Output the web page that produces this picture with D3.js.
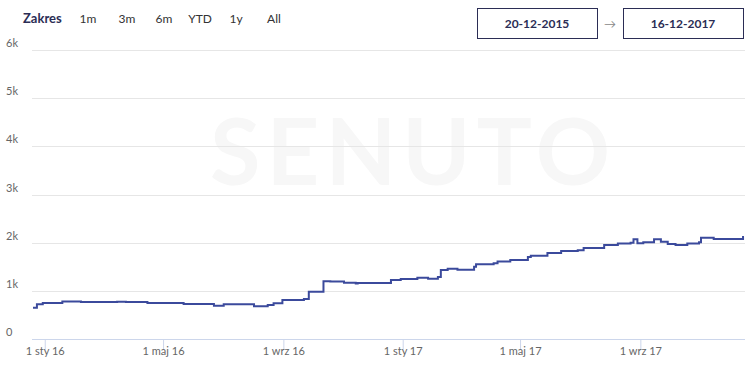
<!DOCTYPE html>
<html>
<head>
<meta charset="utf-8">
<script src="https://cdn.jsdelivr.net/npm/d3@7"></script>
<style>
  body { margin: 0; background: #fff; font-family: Lato, "Open Sans", sans-serif; }
  svg text { font-family: Lato, "Open Sans", sans-serif; }
</style>
</head>
<body>
<svg id="chart" width="755" height="372"></svg>
<script>
// ranges in the top bar
var rangeButtons = ["1m", "3m", "6m", "YTD", "1y", "All"];
var dateFrom = "20-12-2015", dateTo = "16-12-2017";

// visibility series
var dates = [
  "2015-12-20", "2015-12-24", "2015-12-30", "2016-01-19", "2016-02-07", "2016-03-15",
  "2016-03-24", "2016-04-15", "2016-05-22", "2016-06-22", "2016-07-02", "2016-08-02",
  "2016-08-16", "2016-08-22", "2016-08-31", "2016-09-22", "2016-09-27", "2016-10-12",
  "2016-10-19", "2016-11-02", "2016-11-14", "2016-11-16", "2016-12-20", "2016-12-30",
  "2017-01-16", "2017-01-27", "2017-02-06", "2017-02-09", "2017-02-16", "2017-02-26",
  "2017-03-15", "2017-03-17", "2017-04-04", "2017-04-08", "2017-04-21", "2017-05-09",
  "2017-05-12", "2017-05-29", "2017-06-12", "2017-06-29", "2017-07-05", "2017-07-26",
  "2017-08-09", "2017-08-22", "2017-08-25", "2017-08-29", "2017-09-04", "2017-09-15",
  "2017-09-22", "2017-09-29", "2017-10-07", "2017-10-19", "2017-10-31", "2017-11-02",
  "2017-11-15", "2017-12-13", "2017-12-15", "2017-12-16"
];
var values = [
  650, 720, 750, 780, 770, 775,
  770, 745, 725, 690, 720, 680,
  705, 740, 810, 830, 980, 1200,
  1195, 1170, 1150, 1165, 1225, 1245,
  1270, 1250, 1285, 1430, 1460, 1440,
  1500, 1550, 1575, 1610, 1640, 1700,
  1730, 1785, 1825, 1845, 1890, 1950,
  1985, 2000, 2070, 1990, 2010, 2070,
  2020, 1970, 1950, 1985, 2010, 2100,
  2075, 2075, 2120, 2120
];
var yTicks = [0, 1000, 2000, 3000, 4000, 5000, 6000];
var yTickLabels = ["0", "1k", "2k", "3k", "4k", "5k", "6k"];
var xTicks = ["2016-01-01", "2016-05-01", "2016-09-01", "2017-01-01", "2017-05-01", "2017-09-01"];
var xTickLabels = ["1 sty 16", "1 maj 16", "1 wrz 16", "1 sty 17", "1 maj 17", "1 wrz 17"];

var parse = d3.timeParse("%Y-%m-%d");
var data = dates.map(function(d, i) { return { date: parse(d), value: values[i] }; });

var svg = d3.select("#chart");
var plotL = 32, plotR = 745, plotT = 50, plotB = 339;

var x = d3.scaleTime()
  .domain([parse("2015-12-20"), parse("2017-12-17")])
  .range([plotL + 1, plotR]);
var y = d3.scaleLinear().domain([0, 6000]).range([plotB, plotT]);

// watermark
svg.append("text")
  .attr("x", 210).attr("y", 185)
  .attr("textLength", 400).attr("lengthAdjust", "spacing")
  .attr("font-size", 92).attr("font-weight", 700)
  .attr("fill", "#f7f7f7")
  .text("SENUTO");

// grid
svg.append("g").selectAll("line")
  .data(yTicks.slice(1))
  .enter().append("line")
  .attr("x1", plotL).attr("x2", plotR)
  .attr("y1", function(d) { return Math.round(y(d)) + 0.5; })
  .attr("y2", function(d) { return Math.round(y(d)) + 0.5; })
  .attr("stroke", "#e6e6e6");

// y labels
svg.append("g").selectAll("text")
  .data(yTicks)
  .enter().append("text")
  .attr("x", 6)
  .attr("y", function(d) { return y(d) - 3; })
  .attr("font-size", 11).attr("fill", "#666")
  .text(function(d, i) { return yTickLabels[i]; });

// x axis
var xAxis = d3.axisBottom(x)
  .tickValues(xTicks.map(parse))
  .tickSize(10)
  .tickFormat(function(d, i) { return xTickLabels[i]; });
var gx = svg.append("g")
  .attr("transform", "translate(0," + (plotB + 0.5) + ")")
  .call(xAxis);
gx.select(".domain").attr("d", "M" + plotL + ",0H" + plotR).attr("stroke", "#ccd6eb");
gx.selectAll(".tick line").attr("stroke", "#ccd6eb");
gx.selectAll(".tick text").attr("fill", "#666").attr("font-size", 11)
  .attr("font-family", "Lato, 'Open Sans', sans-serif").attr("dy", "0.2em");

// line
var line = d3.line()
  .x(function(d) { return x(d.date); })
  .y(function(d) { return y(d.value); })
  .curve(d3.curveStepAfter);
svg.append("path")
  .datum(data)
  .attr("d", line)
  .attr("fill", "none")
  .attr("stroke", "#3b4a9c")
  .attr("stroke-width", 2);

// range selector
svg.append("text")
  .attr("x", 23).attr("y", 23)
  .attr("font-size", 13).attr("font-weight", 700).attr("fill", "#2b2d55")
  .text("Zakres");
var btnX = [88, 127, 164, 200, 236, 274];
svg.append("g").selectAll("text")
  .data(rangeButtons)
  .enter().append("text")
  .attr("x", function(d, i) { return btnX[i]; })
  .attr("y", 23)
  .attr("text-anchor", "middle")
  .attr("font-size", 12).attr("fill", "#333")
  .text(function(d) { return d; });

// date inputs
var boxes = [{ x: 477, w: 120, t: dateFrom }, { x: 623, w: 120, t: dateTo }];
var bg = svg.append("g").selectAll("g").data(boxes).enter().append("g");
bg.append("rect")
  .attr("x", function(d) { return d.x + 0.5; }).attr("y", 8.5)
  .attr("width", function(d) { return d.w; }).attr("height", 30)
  .attr("fill", "#fff").attr("stroke", "#2b2d55").attr("stroke-width", 1);
bg.append("text")
  .attr("x", function(d) { return d.x + d.w / 2; }).attr("y", 28)
  .attr("text-anchor", "middle")
  .attr("font-size", 12).attr("font-weight", 700).attr("fill", "#2b2d55")
  .text(function(d) { return d.t; });
svg.append("text")
  .attr("x", 610).attr("y", 28).attr("text-anchor", "middle")
  .attr("font-size", 12).attr("fill", "#888")
  .text("\u2192");
</script>
</body>
</html>
